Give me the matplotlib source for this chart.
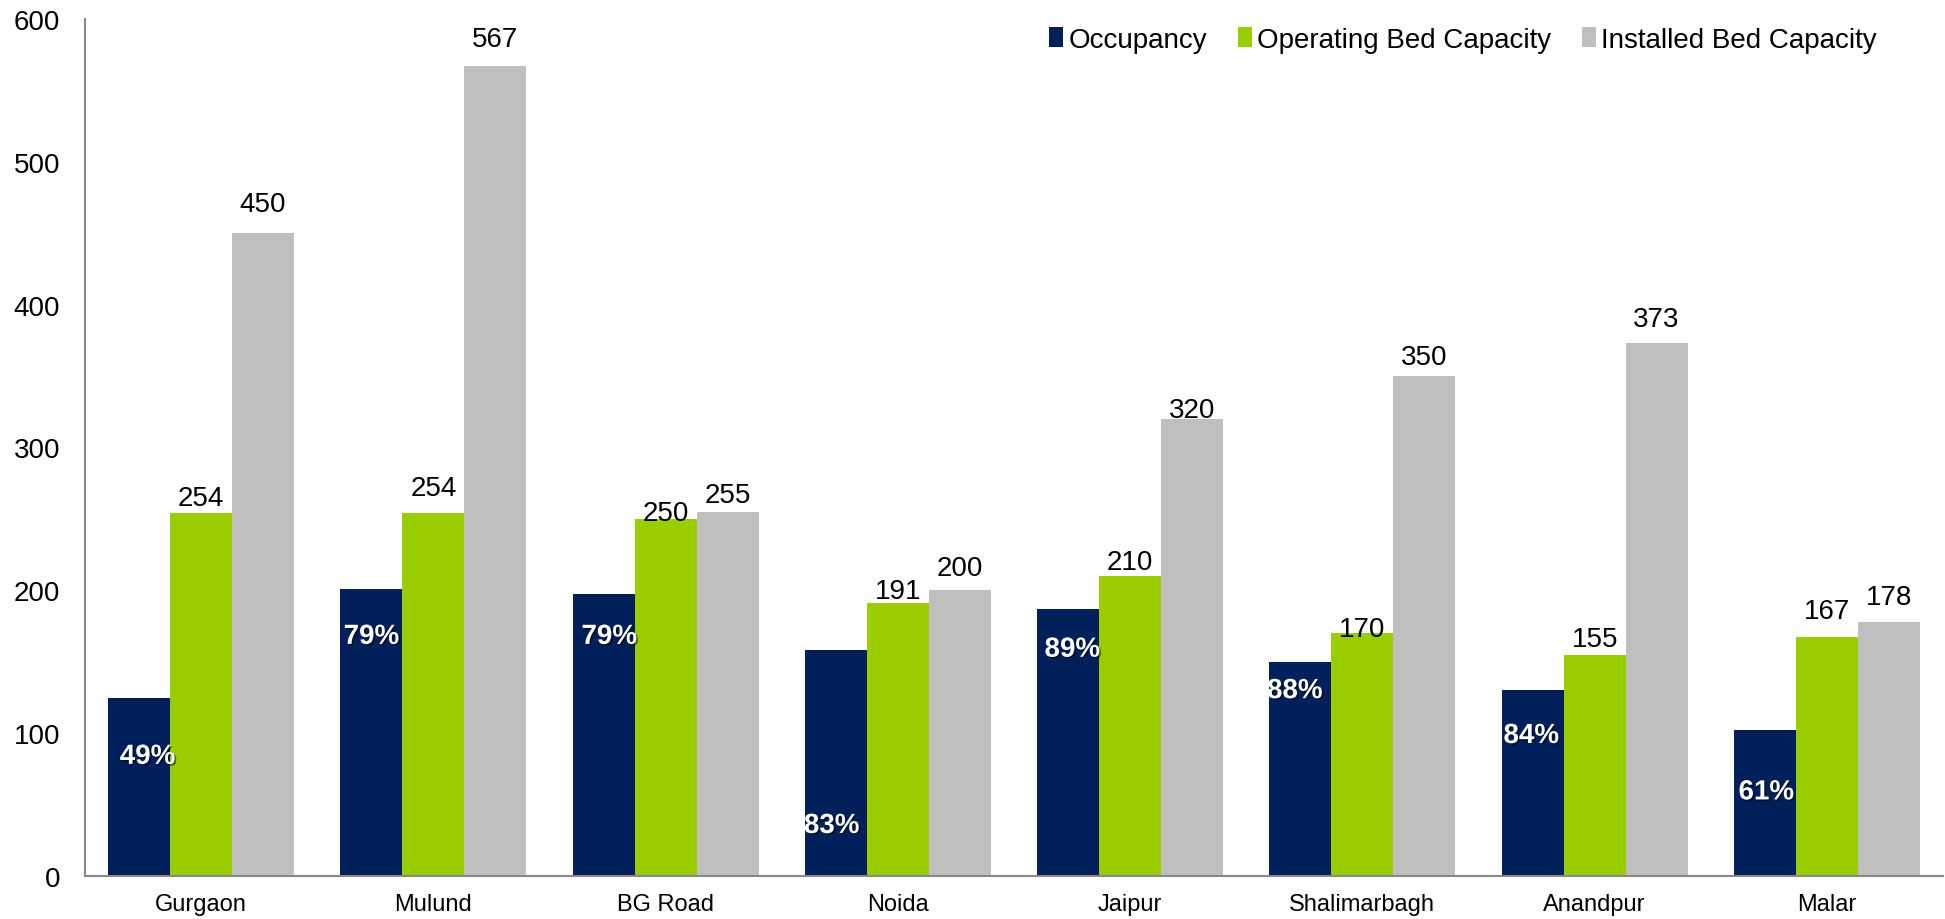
import matplotlib
matplotlib.use("Agg")
import matplotlib.pyplot as plt
import matplotlib.patheffects as pe
import numpy as np

plt.rcParams['font.family'] = ['Liberation Sans', 'DejaVu Sans']

# Hospital bed data
hospitals = ["Gurgaon", "Mulund", "BG Road", "Noida", "Jaipur",
             "Shalimarbagh", "Anandpur", "Malar"]
occupancy_pct = [49, 79, 79, 83, 89, 88, 84, 61]
operating_beds = [254, 254, 250, 191, 210, 170, 155, 167]
installed_beds = [450, 567, 255, 200, 320, 350, 373, 178]
y_ticks = [0, 100, 200, 300, 400, 500, 600]

# Occupied beds = occupancy share of operating capacity
occupied_beds = [p / 100 * b for p, b in zip(occupancy_pct, operating_beds)]

# Label placement tweaks (points above bar top / placement of % labels)
operating_lift = [5.8, 13, -0.7, 3.6, 5, -2.2, 6.5, 13.7]
installed_lift = [15.8, 14.4, 7.2, 10.8, 1.4, 8.6, 12.2, 13]
pct_label_y = [83.4, 167.4, 167.4, 35, 158.4, 129.4, 98, 58.5]
pct_label_dx = [6, 0, 4, -3, 3, -4, -1, 1]

NAVY = "#00205B"
GREEN = "#9ACD00"
GREY = "#BFBFBF"
AXIS = "#888888"

W, H = 1945, 920
fig = plt.figure(figsize=(W / 100, H / 100), dpi=100)
ax = fig.add_axes([85 / W, 43 / H, 1858 / W, 857 / H])

x = np.arange(len(hospitals))
bw = 0.2667

b_occ = ax.bar(x - bw, occupied_beds, bw, color=NAVY, label="Occupancy", zorder=2)
b_op = ax.bar(x, operating_beds, bw, color=GREEN, label="Operating Bed Capacity", zorder=2)
b_in = ax.bar(x + bw, installed_beds, bw, color=GREY, label="Installed Bed Capacity", zorder=2)

ax.set_xlim(-0.5, len(hospitals) - 0.5)
ax.set_ylim(0, 600)
ax.set_yticks(y_ticks)
ax.set_yticklabels([str(t) for t in y_ticks], fontsize=20)
ax.set_xticks(x)
ax.set_xticklabels(hospitals, fontsize=17)
ax.tick_params(axis='y', length=0, pad=18)
ax.tick_params(axis='x', length=0, pad=12)

for side in ("top", "right"):
    ax.spines[side].set_visible(False)
for side in ("left", "bottom"):
    ax.spines[side].set_color(AXIS)
    ax.spines[side].set_linewidth(1.5)

# Value labels above operating and installed bars
for xi, v, lift in zip(x, operating_beds, operating_lift):
    ax.annotate(str(v), (xi, v), xytext=(0, lift), textcoords="offset points",
                ha="center", va="baseline", fontsize=20, color="black", zorder=4)
for xi, v, lift in zip(x + bw, installed_beds, installed_lift):
    ax.annotate(str(v), (xi, v), xytext=(0, lift), textcoords="offset points",
                ha="center", va="baseline", fontsize=20, color="black", zorder=4)

# Occupancy percentages inside the navy bars
shadow = [pe.SimplePatchShadow(offset=(1.2, -1.2), shadow_rgbFace="black", alpha=0.5),
          pe.Normal()]
for xi, p, ly, dx in zip(x - bw, occupancy_pct, pct_label_y, pct_label_dx):
    ax.annotate(f"{p}%", (xi, ly), xytext=(dx, 0), textcoords="offset points",
                ha="center", va="center", fontsize=20, fontweight="bold",
                color="white", path_effects=shadow, zorder=5)

leg = fig.legend(handles=[b_occ, b_op, b_in], loc="center right",
                 bbox_to_anchor=(1877 / W, 1 - 41 / H), ncol=3, frameon=False,
                 fontsize=20, handlelength=0.5, handleheight=0.75,
                 handletextpad=0.2, columnspacing=1.1, borderpad=0,
                 borderaxespad=0)

fig.savefig("out.png", dpi=100, facecolor="white")
